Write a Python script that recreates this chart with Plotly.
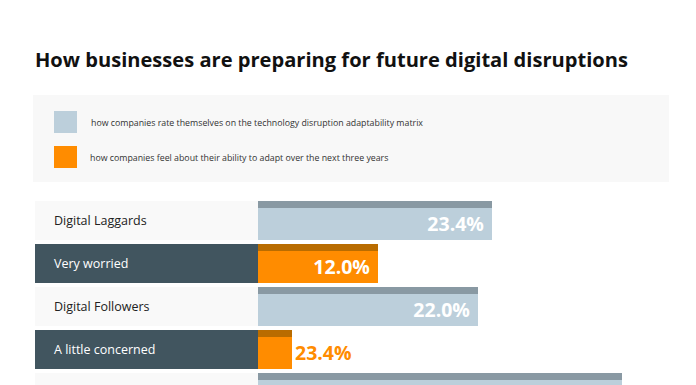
import plotly.graph_objects as go

# ---- data ----
categories = ["Digital Laggards", "Very worried", "Digital Followers", "A little concerned", ""]
bar_lengths = [23.4, 12.0, 22.0, 3.4, 36.4]
value_labels = ["23.4%", "12.0%", "22.0%", "23.4%", ""]
series_kind = ["rate", "feel", "rate", "feel", "rate"]
legend_names = [
    "how companies rate themselves on the technology disruption adaptability matrix",
    "how companies feel about their ability to adapt over the next three years",
]
title_text = "How businesses are preparing for future digital disruptions"

# ---- styles ----
OFF = 8  # page body margin
W, H = 696 - OFF, 385 - OFF
FONT = "Open Sans"
BODY = {"rate": "#bccfdb", "feel": "#ff8c00"}
BAND = {"rate": "#8999a3", "feel": "#b96c00"}
BOX = {"rate": "#f9f9f9", "feel": "#41555f"}
LABEL_COL = {"rate": "#222222", "feel": "#ffffff"}
BAR_W, BAND_W = 0.907, 0.16


def px(x):
    return (x - OFF) / W


def py(y):
    return 1 - (y - OFF) / H


ypos = list(range(len(categories)))
fig = go.Figure()

body_colors = [BODY[k] for k in series_kind]
band_colors = [BAND[k] for k in series_kind]
text_pos = ["inside" if v >= 8 else "outside" for v in bar_lengths]
text_cols = ["#ffffff" if p == "inside" else BODY[k] for p, k in zip(text_pos, series_kind)]
vfont = dict(family=FONT, size=19.5, color=text_cols, weight="bold")

# band (top strip)
fig.add_trace(go.Bar(
    y=ypos, x=bar_lengths, orientation="h",
    marker=dict(color=band_colors, line=dict(width=0)),
    width=BAND_W, offset=-BAR_W / 2, showlegend=False, hoverinfo="skip",
))
# bar body
fig.add_trace(go.Bar(
    y=ypos, x=bar_lengths, orientation="h",
    marker=dict(color=body_colors, line=dict(width=0)),
    width=BAR_W - BAND_W, offset=-BAR_W / 2 + BAND_W,
    text=value_labels, texttemplate="%{text}\u00a0", textposition=text_pos,
    insidetextanchor="end",
    textfont=vfont, outsidetextfont=vfont, insidetextfont=vfont,
    constraintext="none", cliponaxis=True, showlegend=False, hoverinfo="skip",
))

shapes = []
annotations = []
for i, (cat, k) in enumerate(zip(categories, series_kind)):
    shapes.append(dict(type="rect", xref="paper", yref="y",
                       x0=px(35), x1=px(258), y0=i - BAR_W / 2, y1=i + BAR_W / 2,
                       fillcolor=BOX[k], line=dict(width=0), layer="below"))
    if cat:
        annotations.append(dict(text=cat, xref="paper", yref="y", x=px(52), y=i,
                                xanchor="left", yanchor="middle", align="left",
                                showarrow=False,
                                font=dict(family=FONT, size=12.5, color=LABEL_COL[k])))

# legend box
shapes.append(dict(type="rect", xref="paper", yref="paper",
                   x0=px(33), x1=px(669), y0=py(182), y1=py(95),
                   fillcolor="#f8f8f8", line=dict(width=0), layer="below"))
for j, (name, k) in enumerate(zip(legend_names, ["rate", "feel"])):
    yc = 122 + j * 35
    shapes.append(dict(type="rect", xref="paper", yref="paper",
                       x0=px(54), x1=px(77), y0=py(yc + 11), y1=py(yc - 11),
                       fillcolor=BODY[k], line=dict(width=0)))
    annotations.append(dict(text=name, xref="paper", yref="paper", x=px(89 - j),
                            y=py(yc + 1), xanchor="left", yanchor="middle", align="left",
                            showarrow=False,
                            font=dict(family=FONT, size=8.8, color="#333333")))

annotations.append(dict(text="<b>" + title_text + "</b>", xref="paper", yref="paper",
                        x=px(33), y=py(59), xanchor="left", yanchor="middle", align="left",
                        showarrow=False, font=dict(family=FONT, size=20.1, color="#111111")))

fig.update_layout(
    width=W, height=H, margin=dict(l=0, r=0, t=0, b=0),
    paper_bgcolor="#ffffff", plot_bgcolor="rgba(0,0,0,0)",
    barmode="overlay", showlegend=False,
    xaxis=dict(range=[-25.0, 43.8], domain=[0, 1], visible=False, fixedrange=True),
    yaxis=dict(range=[3.8256, -0.5], domain=[0, (385 - 199) / H], visible=False, fixedrange=True),
    shapes=shapes, annotations=annotations,
)

fig.write_html("out.html")
